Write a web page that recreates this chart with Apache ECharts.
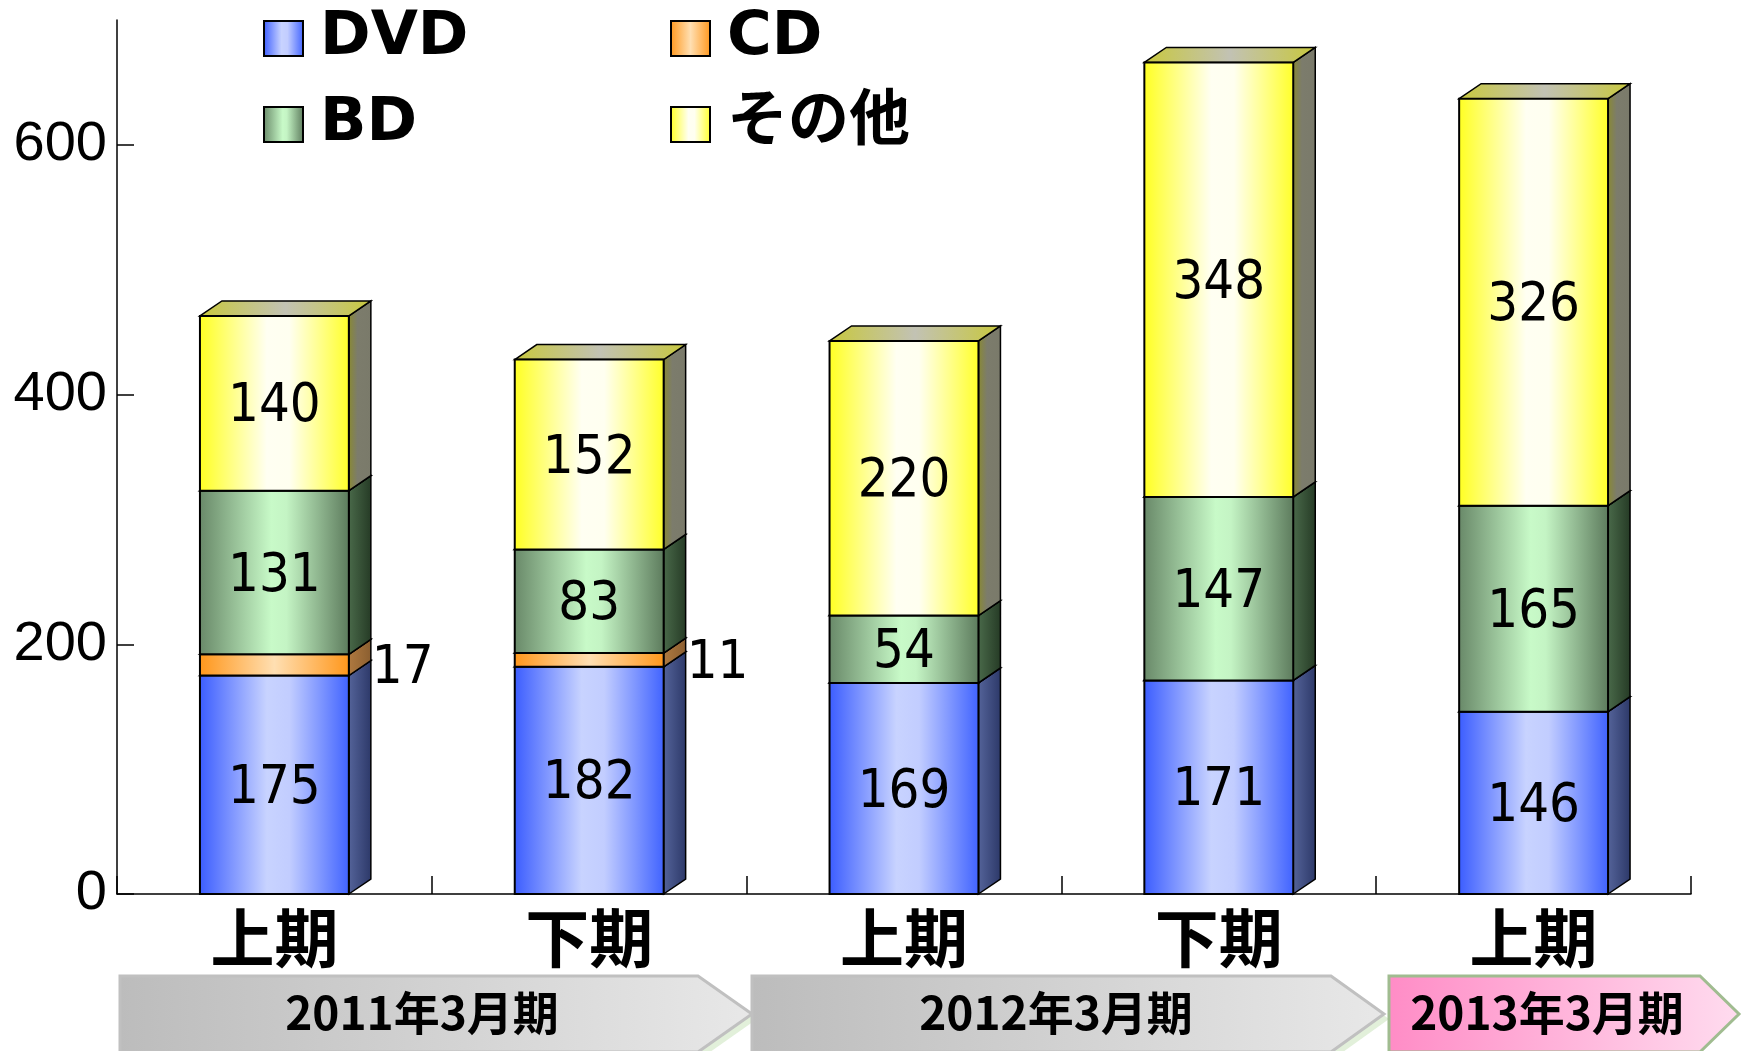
<!DOCTYPE html>
<html><head><meta charset="utf-8">
<script src="https://cdn.jsdelivr.net/npm/echarts@6/dist/echarts.min.js"></script>
<style>html,body{margin:0;padding:0;background:#fff}#c{width:1742px;height:1051px}</style>
</head><body><div id="c"></div>
<script>
const categories = ['上期', '下期', '上期', '下期', '上期'];
const periods = ['2011年3月期', '2012年3月期', '2013年3月期'];
const seriesNames = ['DVD', 'CD', 'BD', 'その他'];
const dvd = [175, 182, 169, 171, 146];
const cd = [17, 11, 0, 0, 0];
const bd = [131, 83, 54, 147, 165];
const other = [140, 152, 220, 348, 326];
const yTicks = [0, 200, 400, 600];

const valuesList = [dvd, cd, bd, other];
function lg(stops) {
  return { type: 'linear', x: 0, y: 0, x2: 1, y2: 0, global: false,
    colorStops: stops.map(s => ({ offset: s[0], color: s[1] })) };
}
const styles = [
  { front: [[0,'#3a5cff'],[0.45,'#c8d3ff'],[0.6,'#c2cdff'],[1,'#3f62ff']],
    side: [[0,'#55649a'],[1,'#2c3868']], top: [[0,'#6a80e0'],[1,'#9aa8e0']] },
  { front: [[0,'#ff961a'],[0.5,'#ffdfb2'],[1,'#ff961a']],
    side: [[0,'#b07a40'],[1,'#8a5e30']], top: [[0,'#d09050'],[1,'#e0b080']] },
  { front: [[0,'#688868'],[0.48,'#c8fac8'],[0.58,'#c4f4c4'],[1,'#5c7a5c']],
    side: [[0,'#4a6a4a'],[1,'#253a25']], top: [[0,'#7a9a7a'],[1,'#a0c0a0']] },
  { front: [[0,'#ffff20'],[0.45,'#fffff2'],[0.6,'#fffff0'],[1,'#ffff28']],
    side: [[0,'#8a8a30'],[0.4,'#7c7c6c'],[1,'#7a7a6a']], top: [[0,'#c8c83c'],[0.5,'#c2c2b4'],[1,'#c8c83c']] }
];

const cum = categories.map(() => 0);
const seriesData = valuesList.map(vals => vals.map((v, i) => {
  const b = cum[i]; cum[i] += v; return [i, b, b + v, v];
}));

const numFont = "'Liberation Sans Narrow', 'DejaVu Sans Condensed', 'Noto Sans', sans-serif";

function makeRender(si) {
  return function (params, api) {
    const ci = api.value(0), base = api.value(1), topV = api.value(2), val = api.value(3);
    if (val <= 0) return;
    const p0 = api.coord([ci, base]);
    const p1 = api.coord([ci, topV]);
    const band = api.size([1, 0])[0];
    const w = band * 0.473;
    const x0 = p0[0] - w / 2, x1 = p0[0] + w / 2;
    const yb = p0[1], yt = p1[1];
    const dx = 22, dy = 15;
    const st = styles[si];
    const children = [
      { type: 'polygon', shape: { points: [[x1, yb], [x1 + dx, yb - dy], [x1 + dx, yt - dy], [x1, yt]] },
        style: { fill: lg(st.side), stroke: '#000', lineWidth: 1.5 } },
      { type: 'polygon', shape: { points: [[x0, yt], [x0 + dx, yt - dy], [x1 + dx, yt - dy], [x1, yt]] },
        style: { fill: lg(st.top), stroke: '#000', lineWidth: 1.5 } },
      { type: 'rect', shape: { x: x0, y: yt, width: w, height: yb - yt },
        style: { fill: lg(st.front), stroke: '#000', lineWidth: 2 } }
    ];
    const my = (yb + yt) / 2 + 4;
    if (si === 1) {
      children.push({ type: 'text', style: { text: String(val), x: x1 + dx + 1, y: my, align: 'left', verticalAlign: 'middle',
        fontSize: 54, fontFamily: numFont, fill: '#000' } });
    } else {
      children.push({ type: 'text', style: { text: String(val), x: p0[0], y: my, align: 'center', verticalAlign: 'middle',
        fontSize: 54, fontFamily: numFont, fill: '#000' } });
    }
    return { type: 'group', children };
  };
}

const chart = echarts.init(document.getElementById('c'));

function chevron(x0, xb, xt, y0, y1, fill, stroke, shadow) {
  const ym = (y0 + y1) / 2;
  const pts = [[x0, y0], [xb, y0], [xt, ym], [xb, y1], [x0, y1]];
  const arr = [];
  if (shadow) arr.push({ type: 'polygon', shape: { points: pts.map(p => [p[0] + 5, p[1] + 5]) }, style: { fill: shadow }, z: 1 });
  arr.push({ type: 'polygon', shape: { points: pts }, style: { fill, stroke, lineWidth: 3 }, z: 2 });
  return arr;
}
const grayFill = lg([[0, '#bcbcbc'], [1, '#e8e8e8']]);
const pinkFill = lg([[0, '#ff8cc6'], [1, '#ffdcef']]);
const chevY0 = 976, chevY1 = 1052;
const chevText = { fontSize: 46, fontWeight: 'bold', fontFamily: "'Noto Sans CJK JP', sans-serif", fill: '#000', align: 'center', verticalAlign: 'middle' };
const graphics = [
  ...chevron(120, 698, 752, chevY0, chevY1, grayFill, '#c0c0c0', '#e2f0da'),
  ...chevron(752, 1331, 1384, chevY0, chevY1, grayFill, '#c0c0c0', '#e2f0da'),
  ...chevron(1389, 1700, 1739, chevY0, chevY1, pinkFill, '#a0bc90', null),
  { type: 'text', x: 422, y: 1013, z: 3, style: Object.assign({ text: periods[0] }, chevText) },
  { type: 'text', x: 1056, y: 1013, z: 3, style: Object.assign({ text: periods[1] }, chevText) },
  { type: 'text', x: 1547, y: 1013, z: 3, style: Object.assign({ text: periods[2] }, chevText) }
];

const legendCommon = {
  orient: 'vertical', top: 3, itemWidth: 39, itemHeight: 35, itemGap: 25, icon: 'rect',
  selectedMode: false,
  itemStyle: { borderColor: '#000', borderWidth: 2 },
  textStyle: { fontSize: 61, fontWeight: 'bold', lineHeight: 60, color: '#000', padding: [0, 0, 0, 12],
    fontFamily: "'DejaVu Sans', 'Noto Sans CJK JP', sans-serif" }
};

chart.setOption({
  animation: false,
  backgroundColor: '#fff',
  grid: { left: 117, right: 51, top: 20, bottom: 157, containLabel: false },
  legend: [
    Object.assign({}, legendCommon, { data: ['DVD', 'BD'], left: 258 }),
    Object.assign({}, legendCommon, { data: ['CD', 'その他'], left: 665 })
  ],
  xAxis: {
    type: 'category', data: categories, boundaryGap: true,
    axisLine: { show: true, lineStyle: { color: '#000', width: 1.5 } },
    axisTick: { show: true, interval: 0, alignWithLabel: false, inside: true, length: 18, lineStyle: { color: '#000', width: 1.5 } },
    axisLabel: { margin: 12, fontSize: 64, fontWeight: 'bold', color: '#000', fontFamily: "'Noto Sans CJK JP', sans-serif" }
  },
  yAxis: {
    type: 'value', min: 0, max: 700, interval: 200,
    axisLine: { show: true, lineStyle: { color: '#000', width: 1.5 } },
    axisTick: { show: true, inside: true, length: 17, customValues: yTicks, lineStyle: { color: '#000', width: 1.5 } },
    axisLabel: { margin: 10, fontSize: 56, color: '#000', customValues: yTicks, fontFamily: "'Liberation Sans', sans-serif" },
    splitLine: { show: false }
  },
  graphic: graphics,
  series: seriesNames.map((name, si) => ({
    name, type: 'custom', renderItem: makeRender(si),
    itemStyle: { color: lg(styles[si].front) },
    encode: { x: 0, y: [1, 2] },
    data: seriesData[si],
    z: 2 + si
  }))
});
</script></body></html>
